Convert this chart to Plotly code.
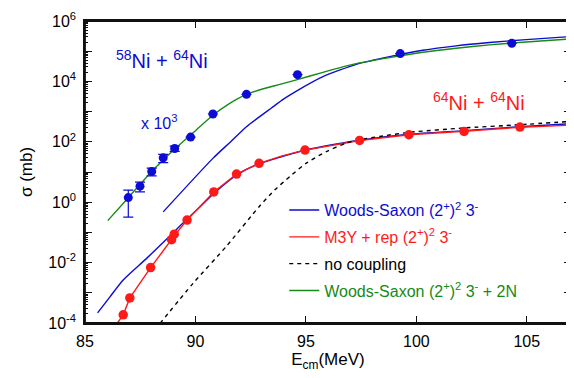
import plotly.graph_objects as go

# ---------------- data ----------------
# 58Ni + 64Ni (multiplied by 10^3), measured
E_58 = [86.96, 87.49, 88.02, 88.54, 89.06, 89.78, 90.79, 92.31, 94.62, 99.27, 104.32]
SIG_58 = [1.42, 3.4, 10.4, 29.5, 60, 143, 832, 3720, 16750, 83400, 183000]
ERR_58 = [1.1, 1.2, 3, 9, 12, 0, 0, 0, 0, 0, 0]

# 64Ni + 64Ni, measured
E_64 = [86.73, 87.03, 87.97, 88.92, 89.04, 89.62, 90.83, 91.86, 92.88, 94.96, 97.43, 99.66, 102.16, 104.69]
SIG_64 = [1.86e-4, 6.76e-4, 6.84e-3, 0.0573, 0.0873, 0.256, 2.19, 8.55, 19.4, 53.1, 110.6, 171, 220, 308]

# Woods-Saxon (2+)^2 3- : 58Ni+64Ni (x10^3) branch
E_WS58 = [88.54, 90.8, 91.56, 92.31, 93.44, 94.0, 94.57, 95.77, 97.28, 98.79, 100.29, 101.8, 103.31, 104.81, 107.0]
SIG_WS58 = [0.479, 28.8, 95.5, 316, 1318, 2630, 4790, 14400, 36800, 66400, 107400, 150300, 193200, 237700, 306200]

# Woods-Saxon (2+)^2 3- : 64Ni+64Ni branch
E_WS64 = [85.57, 86.13, 86.73, 87.79, 89.04, 89.62, 90.2, 90.83, 91.87, 92.88, 94.96, 97.43, 99.66, 102.16, 104.69, 107.0]
SIG_WS64 = [2.16e-4, 7.35e-4, 2.64e-3, 0.0138, 0.106, 0.275, 0.692, 1.95, 8.04, 18.6, 52.4, 112, 178, 234, 316, 398]

# M3Y + rep (2+)^2 3-
E_M3Y = [86.46, 86.73, 87.03, 87.97, 88.5, 89.0, 89.62, 90.2, 90.83, 91.86, 92.88, 93.92, 94.96, 97.43, 99.66, 102.16, 104.69, 107.0]
SIG_M3Y = [9.8e-5, 1.86e-4, 6.76e-4, 6.84e-3, 0.0224, 0.0708, 0.256, 0.713, 2.19, 8.55, 19.4, 34.4, 53.1, 110.6, 171, 224, 302, 355]

# no coupling
E_NC = [88.39, 89.9, 91.41, 92.91, 93.59, 94.27, 95.02, 95.93, 96.83, 97.43, 98.34, 99.69, 102.1, 104.67, 107.0]
SIG_NC = [9.6e-5, 2.09e-3, 0.0354, 0.753, 2.56, 7.06, 19.7, 47.7, 90.7, 117, 150, 207, 285, 367, 472]

# Woods-Saxon (2+)^2 3- + 2N (58Ni+64Ni x10^3)
E_2N = [86.03, 86.96, 88.0, 89.06, 90.0, 90.79, 91.5, 92.31, 93.0, 93.82, 94.57, 95.77, 97.28, 98.79, 100.29, 101.8, 103.31, 104.81, 107.0]
SIG_2N = [0.245, 1.41, 10.0, 57.5, 234, 759, 1780, 3720, 5500, 7940, 11200, 20000, 38800, 61500, 92000, 125000, 162000, 198000, 257000]

X_TICKS = [85, 90, 95, 100, 105]
Y_EXPS = [-4, -3, -2, -1, 0, 1, 2, 3, 4, 5, 6]

BLUE = "#0c0cd4"
RED = "#ff1a1a"
GREEN = "#168a16"
BLACK = "#000000"
AXC = "#111111"
FONT = "Liberation Sans, Arial, Helvetica, sans-serif"

fig = go.Figure()

LW = 1.4
fig.add_trace(go.Scatter(x=E_WS58, y=SIG_WS58, mode="lines", line=dict(color=BLUE, width=LW, shape="spline", smoothing=0.6),
                         name="<span style='color:%s'>Woods-Saxon (2<sup>+</sup>)<sup>2</sup> 3<sup>-</sup></span>" % BLUE,
                         legendgroup="ws"))
fig.add_trace(go.Scatter(x=E_WS64, y=SIG_WS64, mode="lines", line=dict(color=BLUE, width=LW, shape="spline", smoothing=0.6),
                         showlegend=False, legendgroup="ws"))
fig.add_trace(go.Scatter(x=E_M3Y, y=SIG_M3Y, mode="lines", line=dict(color=RED, width=LW),
                         name="<span style='color:%s'>M3Y + rep (2<sup>+</sup>)<sup>2</sup> 3<sup>-</sup></span>" % RED,
                         legendgroup="m3y"))
fig.add_trace(go.Scatter(x=E_NC, y=SIG_NC, mode="lines", line=dict(color=BLACK, width=LW, dash="4px,4px", shape="spline", smoothing=0.6),
                         name="no coupling", legendgroup="nc"))
fig.add_trace(go.Scatter(x=E_2N, y=SIG_2N, mode="lines", line=dict(color=GREEN, width=LW, shape="spline", smoothing=0.6),
                         name="<span style='color:%s'>Woods-Saxon (2<sup>+</sup>)<sup>2</sup> 3<sup>-</sup> + 2N</span>" % GREEN,
                         legendgroup="ws2n"))

fig.add_trace(go.Scatter(x=E_58, y=SIG_58, mode="markers", marker=dict(color=BLUE, size=9),
                         error_y=dict(type="data", array=ERR_58, color=BLUE, thickness=1.2, width=5),
                         showlegend=False))
fig.add_trace(go.Scatter(x=E_64, y=SIG_64, mode="markers", marker=dict(color=RED, size=9.5),
                         showlegend=False))

y_vals = [10.0 ** k for k in Y_EXPS]
y_text = ["10<sup>%d</sup>" % k if k % 2 == 0 else "" for k in Y_EXPS]

axis_common = dict(showline=True, linecolor=AXC, linewidth=1.5, mirror="ticks",
                   ticks="inside", tickcolor=AXC, tickwidth=1.2, showgrid=False, zeroline=False,
                   tickfont=dict(family=FONT, size=16, color="#000"))

fig.update_xaxes(range=[85, 107], tickmode="array", tickvals=X_TICKS, ticklen=7,
                 ticklabelstandoff=3,
                 title=dict(text="E<sub>cm</sub>(MeV)", font=dict(family=FONT, size=17, color="#000"), standoff=0),
                 **axis_common)
fig.update_yaxes(type="log", range=[-4, 6], tickmode="array", tickvals=y_vals, ticktext=y_text, ticklen=7,
                 ticklabelstandoff=4,
                 minor=dict(ticks="inside", ticklen=3, dtick="D1", tickcolor=AXC, tickwidth=1, showgrid=False),
                 title=dict(text="σ (mb)", font=dict(family=FONT, size=17, color="#000"), standoff=11),
                 **axis_common)

# page body has an 8px default margin, so the figure is 8px smaller than the window
fig.update_layout(
    width=566, height=370,
    margin=dict(l=77, r=3, t=13, b=55, autoexpand=False),
    paper_bgcolor="white", plot_bgcolor="white",
    font=dict(family=FONT, size=16, color="#000"),
    showlegend=True,
    legend=dict(x=0.41, y=0.43, xanchor="left", yanchor="top", bgcolor="rgba(0,0,0,0)",
                traceorder="grouped",
                font=dict(family=FONT, size=16), tracegroupgap=3, itemwidth=30),
    shapes=[dict(type="rect", xref="paper", yref="paper", x0=0, x1=1, y0=0, y1=1,
                 line=dict(color=AXC, width=1.8), fillcolor="rgba(0,0,0,0)", layer="above")],
    annotations=[
        dict(text="<sup>58</sup>Ni + <sup>64</sup>Ni", xref="paper", yref="paper", x=0.158, y=0.872,
             xanchor="center", yanchor="middle",
             showarrow=False, font=dict(family=FONT, size=20, color=BLUE)),
        dict(text="x 10<sup>3</sup>", xref="paper", yref="paper", x=0.152, y=0.665,
             xanchor="center", yanchor="middle",
             showarrow=False, font=dict(family=FONT, size=16, color=BLUE)),
        dict(text="<sup>64</sup>Ni + <sup>64</sup>Ni", xref="paper", yref="paper", x=0.811, y=0.733,
             xanchor="center", yanchor="middle",
             showarrow=False, font=dict(family=FONT, size=20, color=RED)),
    ],
)

fig.write_html("out.html")
